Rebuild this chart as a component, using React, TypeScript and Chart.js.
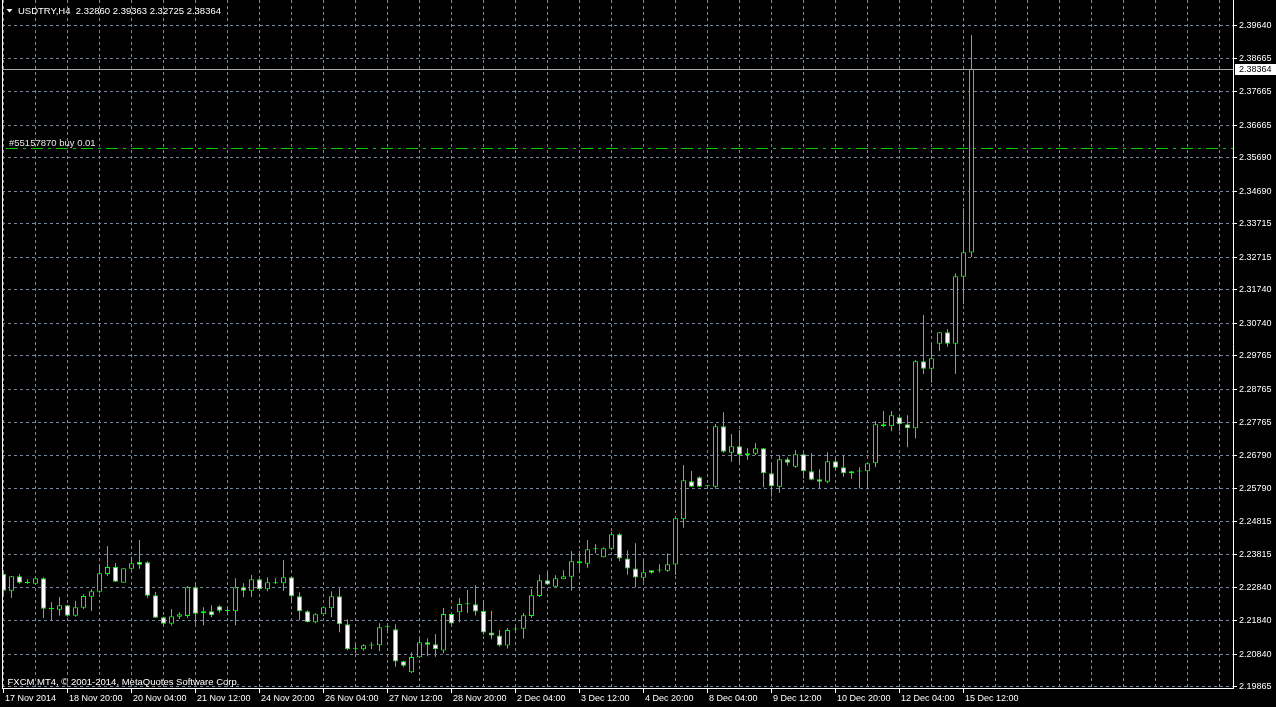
import React, { useEffect, useRef } from 'react';
import { Chart, registerables } from 'chart.js';

Chart.register(...registerables);

const TITLE = 'USDTRY,H4  2.32860 2.39363 2.32725 2.38364';
const COPYRIGHT = 'FXCM MT4, \u00A9 2001-2014, MetaQuotes Software Corp.';
const ORDER_TEXT = '#55157870 buy 0.01';
const ORDER_PRICE = 2.36;
const BID = 2.38364;

const OPEN = [
  2.23238, 2.22738, 2.23169, 2.22969, 2.22948, 2.2311, 2.222, 2.2217, 2.22301, 2.2199,
  2.2223, 2.22559, 2.22708, 2.23238, 2.23448, 2.22978, 2.23397, 2.23597, 2.23588, 2.22601,
  2.21942, 2.21751, 2.2196, 2.21981, 2.2284, 2.22122, 2.22122, 2.22271, 2.22131, 2.22122,
  2.2284, 2.22738, 2.2308, 2.2278, 2.2296, 2.2296, 2.23139, 2.22571, 2.22122, 2.21793,
  2.22032, 2.22212, 2.22571, 2.21733, 2.20984, 2.20984, 2.21098, 2.21104, 2.21643, 2.21583,
  2.20625, 2.20296, 2.20745, 2.21194, 2.21134, 2.20949, 2.22041, 2.22092, 2.22334, 2.22334,
  2.22131, 2.21487, 2.21397, 2.21098, 2.21577, 2.21601, 2.21981, 2.2258, 2.23053, 2.22858,
  2.2308, 2.23157, 2.23618, 2.23546, 2.23977, 2.23738, 2.23995, 2.24426, 2.23702, 2.23403,
  2.23127, 2.23349, 2.23343, 2.23337, 2.23523, 2.24875, 2.26013, 2.26132, 2.25863, 2.25851,
  2.27659, 2.26869, 2.2706, 2.26851, 2.26839, 2.27, 2.26252, 2.25851, 2.26671, 2.2645,
  2.26821, 2.26312, 2.26073, 2.26001, 2.26611, 2.26432, 2.26312, 2.26306, 2.26312, 2.26551,
  2.27719, 2.27659, 2.27928, 2.27719, 2.27599, 2.29604, 2.29383, 2.30131, 2.30472, 2.30131,
  2.32136, 2.3286,
];
const HIGH = [
  2.23277, 2.23178, 2.23238, 2.2308, 2.23139, 2.23139, 2.224, 2.2255, 2.22319, 2.22439,
  2.22631, 2.2278, 2.23528, 2.24076, 2.23567, 2.23409, 2.23756, 2.24256, 2.23627, 2.22699,
  2.2196, 2.22191, 2.22092, 2.22879, 2.22918, 2.22242, 2.22301, 2.22301, 2.22242, 2.2311,
  2.2296, 2.23208, 2.2311, 2.23139, 2.2311, 2.23657, 2.23139, 2.2269, 2.22152, 2.22062,
  2.2225, 2.2272, 2.2281, 2.21882, 2.21134, 2.21134, 2.21194, 2.21763, 2.21763, 2.21733,
  2.20643, 2.20895, 2.21314, 2.21314, 2.21442, 2.22221, 2.22041, 2.2252, 2.22759, 2.229,
  2.2246, 2.22131, 2.21562, 2.21622, 2.21661, 2.22071, 2.22789, 2.23214, 2.23298, 2.23199,
  2.23352, 2.23921, 2.23933, 2.24256, 2.2413, 2.24037, 2.24504, 2.24465, 2.23951, 2.24157,
  2.23642, 2.23349, 2.23531, 2.23858, 2.24953, 2.26501, 2.26321, 2.26162, 2.25902, 2.27728,
  2.28078, 2.27428, 2.27548, 2.27, 2.2715, 2.27009, 2.26551, 2.26791, 2.26731, 2.2695,
  2.26851, 2.26851, 2.26372, 2.26881, 2.26731, 2.26791, 2.26312, 2.26432, 2.26551, 2.27817,
  2.28117, 2.28117, 2.27937, 2.27988, 2.29643, 2.3099, 2.30122, 2.30472, 2.30571, 2.32238,
  2.34184, 2.39363,
];
const LOW = [
  2.22559, 2.2252, 2.22948, 2.22948, 2.22918, 2.21921, 2.2184, 2.2199, 2.2196, 2.2196,
  2.22191, 2.22131, 2.22661, 2.23178, 2.23008, 2.22978, 2.23367, 2.23397, 2.22529, 2.21921,
  2.21691, 2.21691, 2.21891, 2.2193, 2.21751, 2.21703, 2.21942, 2.2208, 2.22002, 2.21703,
  2.22541, 2.22559, 2.22759, 2.2272, 2.22939, 2.22729, 2.22361, 2.21852, 2.21793, 2.21763,
  2.21972, 2.21942, 2.21493, 2.20955, 2.20865, 2.20943, 2.20984, 2.20925, 2.21463, 2.20464,
  2.20446, 2.20275, 2.20724, 2.20775, 2.20763, 2.20865, 2.21742, 2.21793, 2.2208, 2.21996,
  2.21427, 2.21284, 2.21062, 2.21008, 2.21523, 2.21302, 2.21921, 2.2255, 2.22924, 2.22858,
  2.2308, 2.22735, 2.23328, 2.23427, 2.23858, 2.23732, 2.23948, 2.23627, 2.23214, 2.2284,
  2.23008, 2.23247, 2.23283, 2.23304, 2.23208, 2.24624, 2.25842, 2.25842, 2.25827, 2.25791,
  2.26869, 2.26599, 2.26569, 2.26659, 2.26791, 2.25833, 2.25552, 2.25671, 2.2648, 2.2642,
  2.26091, 2.26043, 2.25791, 2.25953, 2.26372, 2.2615, 2.26091, 2.25803, 2.25773, 2.26432,
  2.27629, 2.27509, 2.27509, 2.2703, 2.273, 2.29224, 2.28964, 2.29913, 2.30041, 2.29224,
  2.3131, 2.32725,
];
const CLOSE = [
  2.22738, 2.23169, 2.22978, 2.22999, 2.2311, 2.222, 2.22191, 2.22301, 2.2199, 2.22242,
  2.2258, 2.2272, 2.23259, 2.23448, 2.23008, 2.23409, 2.23558, 2.23517, 2.22589, 2.2193,
  2.21751, 2.21972, 2.22032, 2.2284, 2.2205, 2.22062, 2.22002, 2.2214, 2.22146, 2.2284,
  2.22738, 2.2308, 2.2278, 2.2299, 2.2299, 2.23139, 2.22571, 2.22122, 2.21793, 2.22032,
  2.22242, 2.22571, 2.21733, 2.20984, 2.20993, 2.21104, 2.21104, 2.21643, 2.21658, 2.20619,
  2.20494, 2.20754, 2.21194, 2.21122, 2.20984, 2.22041, 2.21757, 2.2234, 2.2234, 2.22116,
  2.21487, 2.21397, 2.21098, 2.21562, 2.21583, 2.22005, 2.22604, 2.23053, 2.22924, 2.2311,
  2.23172, 2.23621, 2.23558, 2.23977, 2.23983, 2.24007, 2.24426, 2.23702, 2.23403, 2.23133,
  2.23289, 2.23277, 2.23349, 2.23528, 2.24905, 2.26043, 2.25851, 2.25851, 2.25872, 2.27659,
  2.26899, 2.2706, 2.26809, 2.26791, 2.27, 2.26252, 2.25863, 2.26671, 2.26569, 2.26821,
  2.26312, 2.26061, 2.26001, 2.26611, 2.2642, 2.26252, 2.26252, 2.26312, 2.26551, 2.27719,
  2.27659, 2.27988, 2.27719, 2.27599, 2.29604, 2.29383, 2.29694, 2.30472, 2.30131, 2.32148,
  2.32867, 2.38364,
];

const X_LABELS = [
  '17 Nov 2014', '18 Nov 20:00', '20 Nov 04:00', '21 Nov 12:00', '24 Nov 20:00', '26 Nov 04:00',
  '27 Nov 12:00', '28 Nov 20:00', '2 Dec 04:00', '3 Dec 12:00', '4 Dec 20:00', '8 Dec 04:00',
  '9 Dec 12:00', '10 Dec 20:00', '12 Dec 04:00', '15 Dec 12:00',
];
const Y_TICKS = [
  2.3964, 2.38665, 2.37665, 2.36665, 2.3569, 2.3469, 2.33715, 2.32715, 2.3174, 2.3074, 2.29765,
  2.28765, 2.27765, 2.2679, 2.2579, 2.24815, 2.23815, 2.2284, 2.2184, 2.2084, 2.19865,
];

const Y_MIN = 2.19826;
const Y_MAX = 2.40418;
const X_MIN = -0.1875;
const X_MAX = 153.6875;
const BARS_PER_GRID = 4;
const BARS_PER_LABEL = 8;
const LAST_GRID_BAR = 152;

const GREEN = '#00ff00';
const GRID = '#778899';
const FONT = '"Liberation Sans", Arial, sans-serif';

const overlay = {
  id: 'mt4Overlay',
  afterDatasetsDraw(chart: any) {
    const { ctx, chartArea, scales } = chart;
    const y = scales.y;
    ctx.save();
    ctx.strokeStyle = '#ffffff';
    ctx.lineWidth = 1;
    ctx.beginPath();
    ctx.moveTo(chartArea.left + 0.5, 0);
    ctx.lineTo(chartArea.left + 0.5, chartArea.bottom);
    ctx.stroke();

    const by = Math.round(y.getPixelForValue(BID)) + 0.5;
    ctx.strokeStyle = '#a8a8b0';
    ctx.beginPath();
    ctx.moveTo(chartArea.left, by);
    ctx.lineTo(chartArea.right, by);
    ctx.stroke();

    const oy = Math.round(y.getPixelForValue(ORDER_PRICE)) + 0.5;
    ctx.strokeStyle = '#00d000';
    ctx.setLineDash([12, 5, 3, 5]);
    ctx.beginPath();
    ctx.moveTo(chartArea.left + 4, oy);
    ctx.lineTo(chartArea.right, oy);
    ctx.stroke();
    ctx.setLineDash([]);

    ctx.font = '9.5px ' + FONT;
    ctx.textBaseline = 'alphabetic';
    ctx.textAlign = 'left';
    ctx.fillStyle = '#e8e8e8';
    ctx.fillText(ORDER_TEXT, 9, oy - 2.5);

    ctx.fillStyle = '#ffffff';
    ctx.beginPath();
    ctx.moveTo(6.5, 9);
    ctx.lineTo(12.5, 9);
    ctx.lineTo(9.5, 12.5);
    ctx.closePath();
    ctx.fill();
    ctx.fillText(TITLE, 18, 14);

    ctx.fillText(COPYRIGHT, 7.5, 684.5);

    ctx.font = '9px ' + FONT;
    ctx.fillStyle = '#ffffff';
    ctx.fillRect(chartArea.right + 2, by - 5.5, 45, 11);
    ctx.fillStyle = '#000000';
    ctx.textBaseline = 'middle';
    ctx.fillText(BID.toFixed(5), chartArea.right + 6, by + 0.5);
    ctx.restore();
  },
};

export default function App() {
  const ref = useRef<HTMLCanvasElement | null>(null);
  useEffect(() => {
    document.body.style.margin = '0';
    document.body.style.background = '#000';
    const canvas = ref.current!;
    const idx = OPEN.map((_, i) => i);
    const chart = new Chart(canvas, {
      type: 'bar',
      data: {
        datasets: [
          {
            label: 'body',
            order: 0,
            data: idx.map((i) => ({ x: i, y: [OPEN[i], CLOSE[i]] })) as any,
            backgroundColor: idx.map((i) => (CLOSE[i] >= OPEN[i] ? '#000000' : '#ffffff')),
            borderColor: GREEN,
            borderWidth: 1,
            borderSkipped: false,
            barThickness: 5,
            grouped: false,
            inflateAmount: 0,
            minBarLength: 1,
          } as any,
          {
            label: 'wick',
            order: 1,
            data: idx.map((i) => ({ x: i, y: [LOW[i], HIGH[i]] })) as any,
            backgroundColor: GREEN,
            borderWidth: 0,
            barThickness: 1,
            grouped: false,
            inflateAmount: 0,
            minBarLength: 1,
          } as any,
        ],
      },
      options: {
        animation: false,
        responsive: false,
        devicePixelRatio: 1,
        layout: { padding: { left: 2, top: 0, right: 0, bottom: 0 } },
        plugins: { legend: { display: false }, tooltip: { enabled: false }, title: { display: false } },
        events: [],
        scales: {
          x: {
            type: 'linear',
            min: X_MIN,
            max: X_MAX,
            offset: false,
            position: 'bottom',
            grid: {
              offset: false,
              color: GRID,
              lineWidth: 1,
              tickLength: 5,
              tickWidth: 1,
              tickColor: (c: any) =>
                c.tick && c.tick.value % BARS_PER_LABEL === 0 && c.tick.value / BARS_PER_LABEL < X_LABELS.length
                  ? '#ffffff'
                  : 'rgba(0,0,0,0)',
            },
            border: { display: true, color: '#ffffff', width: 1, dash: [3, 3] },
            ticks: {
              autoSkip: false,
              maxRotation: 0,
              minRotation: 0,
              align: 'start',
              labelOffset: 1.5,
              padding: 0,
              color: '#ffffff',
              font: { family: FONT, size: 9 },
              callback: (v: any) => {
                const k = Number(v);
                return k % BARS_PER_LABEL === 0 ? X_LABELS[k / BARS_PER_LABEL] ?? '' : '';
              },
            },
            afterBuildTicks: (s: any) => {
              const t: any[] = [];
              for (let v = 0; v <= LAST_GRID_BAR; v += BARS_PER_GRID) t.push({ value: v });
              s.ticks = t;
            },
            afterFit: (s: any) => {
              s.height = 19;
              s.paddingLeft = 0;
              s.paddingRight = 0;
              s.paddingTop = 0;
              s.paddingBottom = 0;
            },
          } as any,
          y: {
            type: 'linear',
            position: 'right',
            min: Y_MIN,
            max: Y_MAX,
            beginAtZero: false,
            grid: {
              color: GRID,
              lineWidth: 1,
              tickLength: 4,
              tickColor: '#ffffff',
              tickWidth: 1,
            },
            border: { display: true, color: '#ffffff', width: 1, dash: [3, 3] },
            ticks: {
              padding: 2,
              color: '#ffffff',
              font: { family: FONT, size: 9 },
              callback: (v: any) => Number(v).toFixed(5),
            },
            afterBuildTicks: (s: any) => {
              s.ticks = Y_TICKS.map((v) => ({ value: v }));
            },
            afterFit: (s: any) => {
              s.width = 43;
              s.paddingLeft = 0;
              s.paddingRight = 0;
              s.paddingTop = 0;
              s.paddingBottom = 0;
            },
          } as any,
        },
      },
      plugins: [overlay],
    });
    return () => chart.destroy();
  }, []);
  return <canvas ref={ref} width={1276} height={707} style={{ display: 'block', width: 1276, height: 707 }} />;
}
